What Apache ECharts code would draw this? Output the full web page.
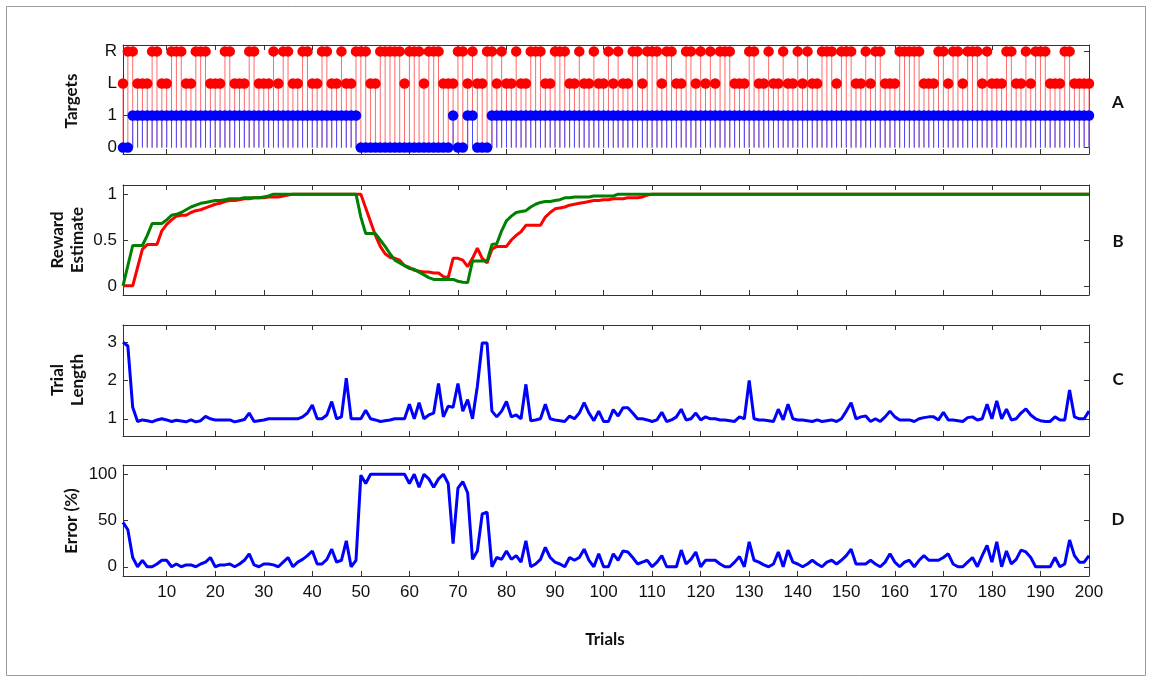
<!DOCTYPE html>
<html>
<head>
<meta charset="utf-8">
<script src="https://cdn.jsdelivr.net/npm/echarts@6/dist/echarts.min.js"></script>
<style>
html,body{margin:0;padding:0;background:#fff;}
#chart{width:1152px;height:679px;}
</style>
</head>
<body>
<div id="chart"></div>
<script>
// ---------- DATA ----------
// Panel A: target side per trial (R/L) and outcome (1 = correct, 0 = error)
const targetSide = [
 'L','R','R','L','L','L','R','R','L','L',
 'R','R','R','L','L','R','R','R','L','L',
 'L','R','R','L','L','L','R','R','L','L',
 'L','R','L','R','R','L','L','R','R','L',
 'L','R','R','L','L','R','L','L','R','R',
 'R','L','L','R','R','R','R','R','L','R',
 'R','R','L','R','R','R','L','L','L','R',
 'R','L','R','L','L','R','R','L','R','L',
 'L','R','L','L','R','R','R','L','L','R',
 'R','R','L','L','R','L','L','R','L','L',
 'R','L','R','L','L','R','R','L','R','R',
 'R','L','R','R','L','L','R','R','L','R',
 'L','R','L','R','R','R','L','L','L','R',
 'R','L','L','R','L','L','R','L','L','R',
 'L','R','L','L','R','R','R','L','R','R',
 'R','L','L','R','L','R','R','L','L','L',
 'R','R','R','R','R','L','L','L','R','R',
 'L','R','R','L','R','R','R','L','R','L',
 'L','L','R','R','L','L','R','L','R','R',
 'R','L','L','L','R','R','L','L','L','L'
];
const outcome = [
 0,0,1,1,1,1,1,1,1,1,
 1,1,1,1,1,1,1,1,1,1,
 1,1,1,1,1,1,1,1,1,1,
 1,1,1,1,1,1,1,1,1,1,
 1,1,1,1,1,1,1,1,1,0,
 0,0,0,0,0,0,0,0,0,0,
 0,0,0,0,0,0,0,0,1,0,
 0,1,1,0,0,0,1,1,1,1,
 1,1,1,1,1,1,1,1,1,1,
 1,1,1,1,1,1,1,1,1,1,
 1,1,1,1,1,1,1,1,1,1,
 1,1,1,1,1,1,1,1,1,1,
 1,1,1,1,1,1,1,1,1,1,
 1,1,1,1,1,1,1,1,1,1,
 1,1,1,1,1,1,1,1,1,1,
 1,1,1,1,1,1,1,1,1,1,
 1,1,1,1,1,1,1,1,1,1,
 1,1,1,1,1,1,1,1,1,1,
 1,1,1,1,1,1,1,1,1,1,
 1,1,1,1,1,1,1,1,1,1
];
// Panel B: reward estimates
const rewardRed = [
 0,0,0,0.2,0.4,0.45,0.45,0.45,0.6,0.67,
 0.72,0.76,0.77,0.77,0.8,0.82,0.83,0.85,0.87,0.89,
 0.9,0.92,0.93,0.93,0.94,0.95,0.95,0.96,0.96,0.96,
 0.97,0.97,0.97,0.98,0.99,1,1,1,1,1,
 1,1,1,1,1,1,1,1,1,1,
 0.85,0.7,0.55,0.43,0.35,0.31,0.3,0.28,0.22,0.2,
 0.17,0.16,0.15,0.15,0.14,0.14,0.1,0.09,0.3,0.3,
 0.28,0.21,0.3,0.41,0.3,0.25,0.4,0.43,0.43,0.43,
 0.5,0.55,0.59,0.66,0.66,0.66,0.66,0.75,0.8,0.84,
 0.85,0.86,0.88,0.89,0.9,0.91,0.92,0.93,0.93,0.94,
 0.94,0.95,0.95,0.95,0.96,0.96,0.96,0.97,0.99,1,
 1,1,1,1,1,1,1,1,1,1,
 1,1,1,1,1,1,1,1,1,1,
 1,1,1,1,1,1,1,1,1,1,
 1,1,1,1,1,1,1,1,1,1,
 1,1,1,1,1,1,1,1,1,1,
 1,1,1,1,1,1,1,1,1,1,
 1,1,1,1,1,1,1,1,1,1,
 1,1,1,1,1,1,1,1,1,1,
 1,1,1,1,1,1,1,1,1,1
];
const rewardGreen = [
 0,0.22,0.44,0.44,0.44,0.55,0.68,0.68,0.68,0.72,
 0.77,0.78,0.8,0.83,0.86,0.88,0.9,0.91,0.92,0.93,
 0.93,0.94,0.95,0.95,0.95,0.96,0.96,0.96,0.96,0.97,
 0.98,1,1,1,1,1,1,1,1,1,
 1,1,1,1,1,1,1,1,1,0.75,
 0.57,0.57,0.57,0.5,0.43,0.35,0.28,0.25,0.22,0.19,
 0.18,0.15,0.12,0.09,0.07,0.07,0.07,0.07,0.07,0.05,
 0.04,0.035,0.27,0.27,0.27,0.27,0.45,0.46,0.6,0.71,
 0.76,0.8,0.81,0.82,0.86,0.89,0.91,0.92,0.92,0.93,
 0.94,0.96,0.96,0.97,0.97,0.97,0.97,0.98,0.98,0.98,
 0.98,0.98,1,1,1,1,1,1,1,1,
 1,1,1,1,1,1,1,1,1,1,
 1,1,1,1,1,1,1,1,1,1,
 1,1,1,1,1,1,1,1,1,1,
 1,1,1,1,1,1,1,1,1,1,
 1,1,1,1,1,1,1,1,1,1,
 1,1,1,1,1,1,1,1,1,1,
 1,1,1,1,1,1,1,1,1,1,
 1,1,1,1,1,1,1,1,1,1,
 1,1,1,1,1,1,1,1,1,1
];
// Panel C: trial length
const trialLength = [
 3.0,2.9,1.3,0.93,0.97,0.95,0.92,0.97,1.0,0.97,
 0.93,0.96,0.94,0.92,0.97,0.92,0.95,1.06,1.0,0.97,
 0.97,0.97,0.97,0.92,0.95,0.98,1.15,0.93,0.95,0.97,
 1.0,1.0,1.0,1.0,1.0,1.0,1.0,1.05,1.15,1.36,
 1.0,1.0,1.1,1.45,1.0,1.05,2.06,1.0,1.0,1.0,
 1.22,1.0,0.97,0.93,0.95,0.97,1.0,1.0,1.0,1.38,
 1.0,1.42,1.0,1.1,1.15,1.92,1.05,1.33,1.3,1.92,
 1.2,1.5,1.0,1.85,2.98,2.98,1.2,1.05,1.2,1.45,
 1.05,1.1,1.0,1.9,0.95,0.97,1.0,1.38,1.0,0.97,
 0.95,0.93,1.07,1.0,1.15,1.42,1.15,0.95,1.2,0.93,
 0.93,1.24,1.07,1.29,1.29,1.15,1.0,1.0,0.97,0.93,
 0.97,1.17,0.93,0.97,1.05,1.25,0.97,1.0,1.15,0.97,
 1.05,1.0,1.0,0.97,0.97,0.95,0.93,1.05,1.0,2.0,
 1.0,0.97,0.97,0.95,0.93,1.25,0.97,1.38,1.0,0.97,
 0.97,0.95,0.93,0.97,0.93,0.95,0.97,0.93,1.0,1.2,
 1.42,1.0,1.05,1.07,0.93,1.0,0.93,1.05,1.2,1.05,
 0.97,0.97,0.97,0.93,1.0,1.03,1.05,1.05,0.97,1.17,
 0.97,0.97,0.95,0.93,1.03,1.05,0.97,1.0,1.38,1.0,
 1.47,1.0,1.25,0.97,1.0,1.15,1.26,1.1,1.0,0.95,
 0.93,0.93,1.05,0.97,0.97,1.75,1.05,1.0,1.0,1.2
];
// Panel D: error (%)
const errorPct = [
 48,40,10,0,7,0,0,3,7,7,
 0,3,0,2,2,0,3,5,10,0,
 2,2,3,0,3,7,14,2,0,3,
 3,2,0,5,10,0,5,8,12,17,
 3,3,8,19,5,7,28,0,7,99,
 90,100,100,100,100,100,100,100,100,90,
 100,86,100,95,86,95,100,90,25,85,
 92,80,8,17,57,59,0,10,8,17,
 8,12,5,28,0,3,8,21,10,5,
 3,0,10,7,10,19,7,0,14,0,
 0,14,7,17,16,10,3,5,7,0,
 5,12,0,0,0,18,3,8,16,0,
 7,7,7,3,0,0,5,11,0,27,
 7,5,2,0,3,16,0,18,5,3,
 0,3,7,3,0,5,7,3,7,12,
 19,3,3,3,7,3,0,5,14,5,
 0,5,7,0,7,12,7,7,7,10,
 14,3,0,0,5,10,0,12,23,5,
 27,0,17,3,8,18,16,10,0,0,
 0,0,10,0,3,29,12,5,5,12
];
// Tick labels
const xTicks = [10,20,30,40,50,60,70,80,90,100,110,120,130,140,150,160,170,180,190,200];
const yTicksA = [0,1,2,3];
const yLabelsA = ['0','1','L','R'];
const yTicksB = [0,0.5,1];
const yTicksC = [1,2,3];
const yTicksD = [0,50,100];

// ---------- BUILD ----------
const sideLevel = {R:3, L:2};
const redStemData = targetSide.map((s,i)=>[i+1, sideLevel[s]]);
const blueStemData = outcome.map((v,i)=>[i+1, v]);
const toXY = arr => arr.map((v,i)=>[i+1, v]);

const AX = '#333';
const tickFont = {fontFamily:'"Liberation Sans", Arial, sans-serif', fontSize:17, color:'#111'};
const grids = [
  {left:123, width:966, top:45,  height:109},
  {left:123, width:966, top:185, height:110},
  {left:123, width:966, top:325, height:111},
  {left:123, width:966, top:465, height:111}
];
const yRanges = [[-0.2,3.2],[-0.1,1.1],[0.55,3.45],[-10,110]];
const yTicks = [yTicksA, yTicksB, yTicksC, yTicksD];

const xAxes = [], yAxes = [];
grids.forEach((g,i)=>{
  ['bottom','top'].forEach(pos=>{
    xAxes.push({
      type:'value', gridIndex:i, min:1, max:200, position:pos,
      axisLine:{show:true, onZero:false, lineStyle:{color:AX, width:1}},
      axisTick:{show:true, inside:true, length:5, customValues:xTicks, lineStyle:{color:AX}},
      axisLabel:Object.assign({show: i===3 && pos==='bottom', customValues:xTicks, margin:8}, tickFont),
      splitLine:{show:false}
    });
  });
  ['left','right'].forEach(pos=>{
    const ax = {
      type:'value', gridIndex:i, min:yRanges[i][0], max:yRanges[i][1], position:pos,
      axisLine:{show:true, onZero:false, lineStyle:{color:AX, width:1}},
      axisTick:{show:true, inside:true, length:5, customValues:yTicks[i], lineStyle:{color:AX}},
      axisLabel:Object.assign({show: pos==='left', customValues:yTicks[i], margin:6}, tickFont),
      splitLine:{show:false}
    };
    if (i===0) ax.axisLabel.formatter = v => yLabelsA[Math.round(v)];
    yAxes.push(ax);
  });
});

function stemRenderer(color){
  return function(params, api){
    const p0 = api.coord([api.value(0), 0]);
    const p1 = api.coord([api.value(0), api.value(1)]);
    return {type:'line', shape:{x1:p0[0], y1:p0[1], x2:p1[0], y2:p1[1]},
            style:{stroke:color, lineWidth:1}};
  };
}

const lineCommon = {type:'line', showSymbol:false, symbol:'none', animation:false, z:3};

const series = [
  {type:'custom', xAxisIndex:0, yAxisIndex:0, data:redStemData, renderItem:stemRenderer('#ff6a6a'), animation:false, z:1},
  {type:'scatter', xAxisIndex:0, yAxisIndex:0, data:redStemData, symbol:'circle', symbolSize:10.5, itemStyle:{color:'#ff0000', opacity:1}, animation:false, z:2},
  {type:'custom', xAxisIndex:0, yAxisIndex:0, data:blueStemData, renderItem:stemRenderer('#4a4aff'), animation:false, z:3},
  {type:'scatter', xAxisIndex:0, yAxisIndex:0, data:blueStemData, symbol:'circle', symbolSize:10.5, itemStyle:{color:'#0000ff', opacity:1}, animation:false, z:4},
  Object.assign({}, lineCommon, {xAxisIndex:2, yAxisIndex:2, data:toXY(rewardRed), lineStyle:{color:'#ff0000', width:3}}),
  Object.assign({}, lineCommon, {xAxisIndex:2, yAxisIndex:2, data:toXY(rewardGreen), lineStyle:{color:'#008000', width:3}, z:4}),
  Object.assign({}, lineCommon, {xAxisIndex:4, yAxisIndex:4, data:toXY(trialLength), lineStyle:{color:'#0000ff', width:3}}),
  Object.assign({}, lineCommon, {xAxisIndex:6, yAxisIndex:6, data:toXY(errorPct), lineStyle:{color:'#0000ff', width:3}})
];

const labFont = 'bold 17px Lato, "Open Sans", sans-serif';
function vText(text, x, y){
  return {type:'text', x:x, y:y, rotation:Math.PI/2,
    style:{text:text, font:labFont, fill:'#111', align:'center', verticalAlign:'middle'}};
}
function hText(text, x, y){
  return {type:'text', x:x, y:y,
    style:{text:text, font:labFont, fill:'#111', align:'center', verticalAlign:'middle'}};
}

const option = {
  backgroundColor:'#ffffff',
  animation:false,
  grid:grids,
  xAxis:xAxes,
  yAxis:yAxes,
  series:series,
  graphic:[
    {type:'rect', shape:{x:6.5, y:6.5, width:1139, height:669}, style:{fill:'none', stroke:'#9a9a9a', lineWidth:1}, silent:true},
    vText('Targets', 72, 101),
    vText('Reward', 58, 240),
    vText('Estimate', 78, 240),
    vText('Trial', 58, 380),
    vText('Length', 78, 380),
    vText('Error (%)', 72, 521),
    hText('A', 1118, 103),
    hText('B', 1118, 242),
    hText('C', 1118, 380),
    hText('D', 1118, 520),
    hText('Trials', 605, 640)
  ]
};

const chart = echarts.init(document.getElementById('chart'), null, {renderer:'canvas'});
chart.setOption(option);
</script>
</body>
</html>
